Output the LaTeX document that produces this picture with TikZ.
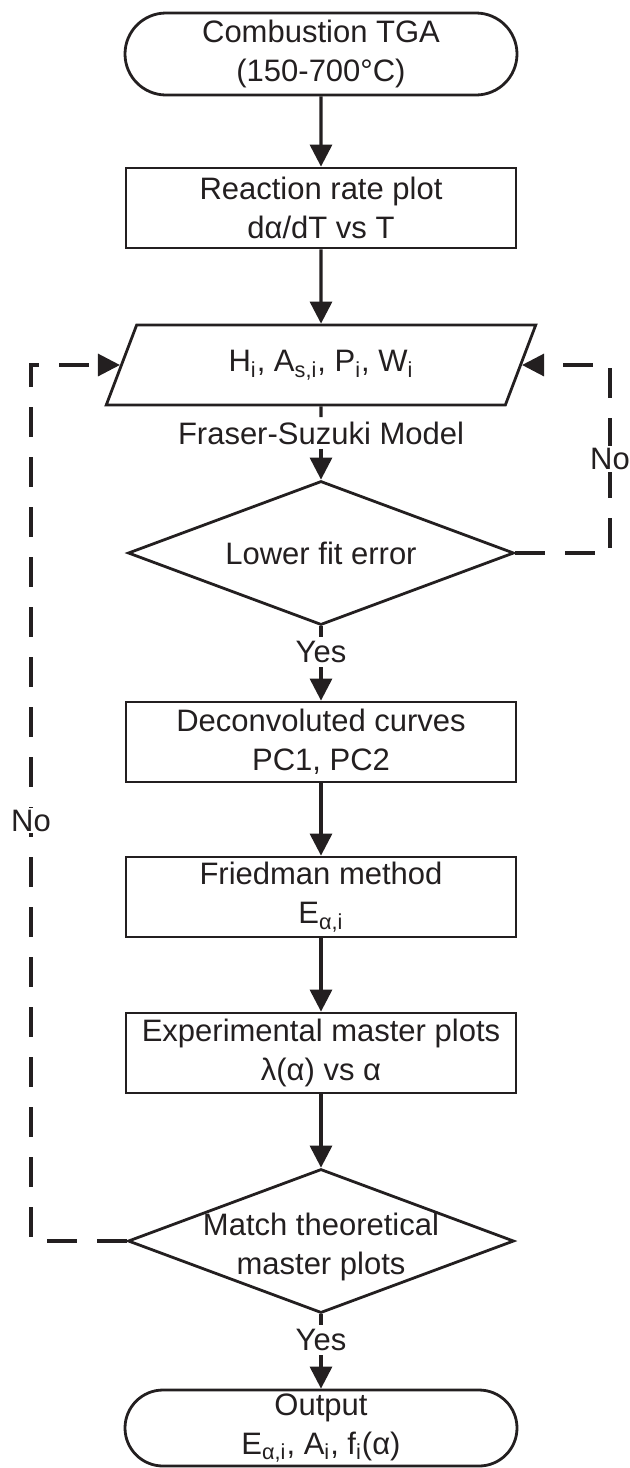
\documentclass[tikz,border=0pt]{standalone}
\usepackage{fontspec}
\setmainfont{Liberation Sans}
\usetikzlibrary{arrows.meta,shapes.geometric,shapes.misc}
\definecolor{ink}{RGB}{35,31,32}
\begin{document}
\begin{tikzpicture}[x=0.5pt,y=-0.5pt,
  every node/.style={font=\fontsize{15.5}{19.5}\selectfont, text=ink},
  proc/.style={draw=ink, line width=1.4pt, rectangle, minimum width=195pt, minimum height=40pt, inner sep=0pt, align=center},
  term/.style={draw=ink, line width=1.4pt, rounded rectangle, minimum width=196pt, minimum height=41pt, inner sep=0pt, align=center},
  dec/.style={draw=ink, line width=1.4pt, diamond, minimum width=193pt, minimum height=72pt, inner sep=0pt},
  io/.style={draw=ink, line width=1.4pt, trapezium, trapezium left angle=63, trapezium right angle=117, trapezium stretches=true, minimum width=215pt, minimum height=40pt, inner sep=0pt},
  flow/.style={draw=ink, line width=1.6pt, -{Triangle[length=11pt,width=11pt]}},
  plainline/.style={draw=ink, line width=1.6pt},
  backflow/.style={draw=ink, line width=1.6pt, dash pattern=on 15pt off 10pt, -{Triangle[length=11pt,width=11pt]}},
  lbl/.style={inner sep=2pt},
  nolbl/.style={fill=white, inner sep=1pt}]
\useasboundingbox (0,0) rectangle (629,1468);
% nodes
\node[term] (start) at (321,54) {Combustion TGA\\(150-700°C)};
\node[proc] (rate) at (321,208) {Reaction rate plot\\dα/dT vs T};
\node[io] (par) at (321,365) {H\textsubscript{i}, A\textsubscript{s,i}, P\textsubscript{i}, W\textsubscript{i}};
\node[lbl] (fs) at (321,433) {Fraser-Suzuki Model};
\node[dec] (d1) at (321,553) {};
\node (d1t) at (d1.center) {Lower fit error};
\node[lbl] (yes1) at (321,652) {Yes};
\node[proc] (decon) at (321,742) {Deconvoluted curves\\PC1, PC2};
\node[proc] (fried) at (321,897) {Friedman method\\E\textsubscript{α,i}};
\node[proc] (expm) at (321,1053) {Experimental master plots\\λ(α) vs α};
\node[dec] (d2) at (321,1241) {};
\node[align=center] (d2t) at (321,1247) {Match theoretical\\master plots};
\node[lbl] (yes2) at (321,1340) {Yes};
\node[term, minimum height=38pt] (finish) at (321,1428) {Output\\E\textsubscript{α,i}, A\textsubscript{i}, f\textsubscript{i}(α)};
% connectors
\draw[flow] (start) -- (rate);
\draw[flow] (rate) -- (par);
\draw[plainline] (par) -- (fs);
\draw[flow] (fs) -- (d1);
\draw[plainline] (d1) -- (yes1);
\draw[flow] (yes1) -- (decon);
\draw[flow] (decon) -- (fried);
\draw[flow] (fried) -- (expm);
\draw[flow] (expm) -- (d2);
\draw[plainline] (d2) -- (yes2);
\draw[flow] (yes2) -- (finish);
% feedback loops
\coordinate (rx) at (610,0);
\coordinate (lx) at (31,0);
\draw[backflow] (d1.east) -- (d1.east -| rx) -- node[nolbl] (no1) {No} (par.right side -| rx) -- (par.right side);
\draw[backflow] (d2.west) -- (d2.west -| lx) -- node[nolbl, pos=0.48] (no2) {No} (par.left side -| lx) -- (par.left side);
\end{tikzpicture}
\end{document}
